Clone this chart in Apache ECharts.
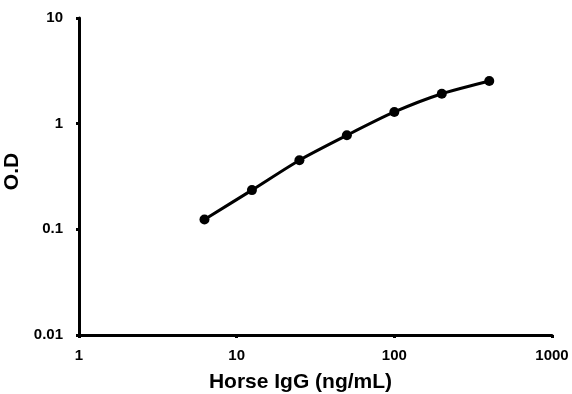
<!DOCTYPE html>
<html>
<head>
<meta charset="utf-8">
<script src="https://cdn.jsdelivr.net/npm/echarts@6/dist/echarts.min.js"></script>
<style>
  html, body { margin: 0; padding: 0; background: #fff; }
  #chart { width: 572px; height: 394px; }
</style>
</head>
<body>
<div id="chart"></div>
<script>
// 浓度 (ng/mL) 与 O.D 读数
const concentrations = [6.25, 12.5, 25, 50, 100, 200, 400];
const odValues = [0.124, 0.235, 0.451, 0.776, 1.29, 1.92, 2.53];

const chart = echarts.init(document.getElementById('chart'));

const axisText = {
  color: '#000',
  fontFamily: 'Liberation Sans, Arial, sans-serif',
  fontWeight: 'bold',
  fontSize: 15,
};

// 去掉千分位逗号
const plain = v => String(+(+v).toPrecision(3));

const option = {
  animation: false,
  grid: { left: 79, right: 20, top: 18, bottom: 59, outerBoundsMode: 'none' },
  xAxis: {
    type: 'log',
    logBase: 10,
    min: 1,
    max: 1000,
    name: 'Horse IgG (ng/mL)',
    nameLocation: 'middle',
    nameGap: 37,
    nameTextStyle: { ...axisText, fontSize: 21, padding: [0, 30, 0, 0] },
    axisLine: { lineStyle: { color: '#000', width: 3 } },
    axisTick: { show: true, inside: false, length: 3, lineStyle: { color: '#000', width: 3 } },
    minorTick: { show: false },
    splitLine: { show: false },
    axisLabel: { ...axisText, margin: 13, formatter: plain },
  },
  yAxis: {
    type: 'log',
    logBase: 10,
    min: 0.01,
    max: 10,
    name: 'O.D',
    nameLocation: 'middle',
    nameGap: 47,
    nameRotate: 90,
    nameTextStyle: { ...axisText, fontSize: 21, padding: [0, 0, 0, 10] },
    axisLine: { show: true, lineStyle: { color: '#000', width: 3 } },
    axisTick: { show: true, inside: false, length: 3, lineStyle: { color: '#000', width: 3 } },
    splitLine: { show: false },
    axisLabel: { ...axisText, margin: 16, formatter: plain },
  },
  series: [
    {
      type: 'line',
      data: concentrations.map((c, i) => [c, odValues[i]]),
      smooth: 0.25,
      symbol: 'circle',
      symbolSize: 10,
      lineStyle: { color: '#000', width: 3 },
      itemStyle: { color: '#000' },
    },
  ],
};

chart.setOption(option);
</script>
</body>
</html>
